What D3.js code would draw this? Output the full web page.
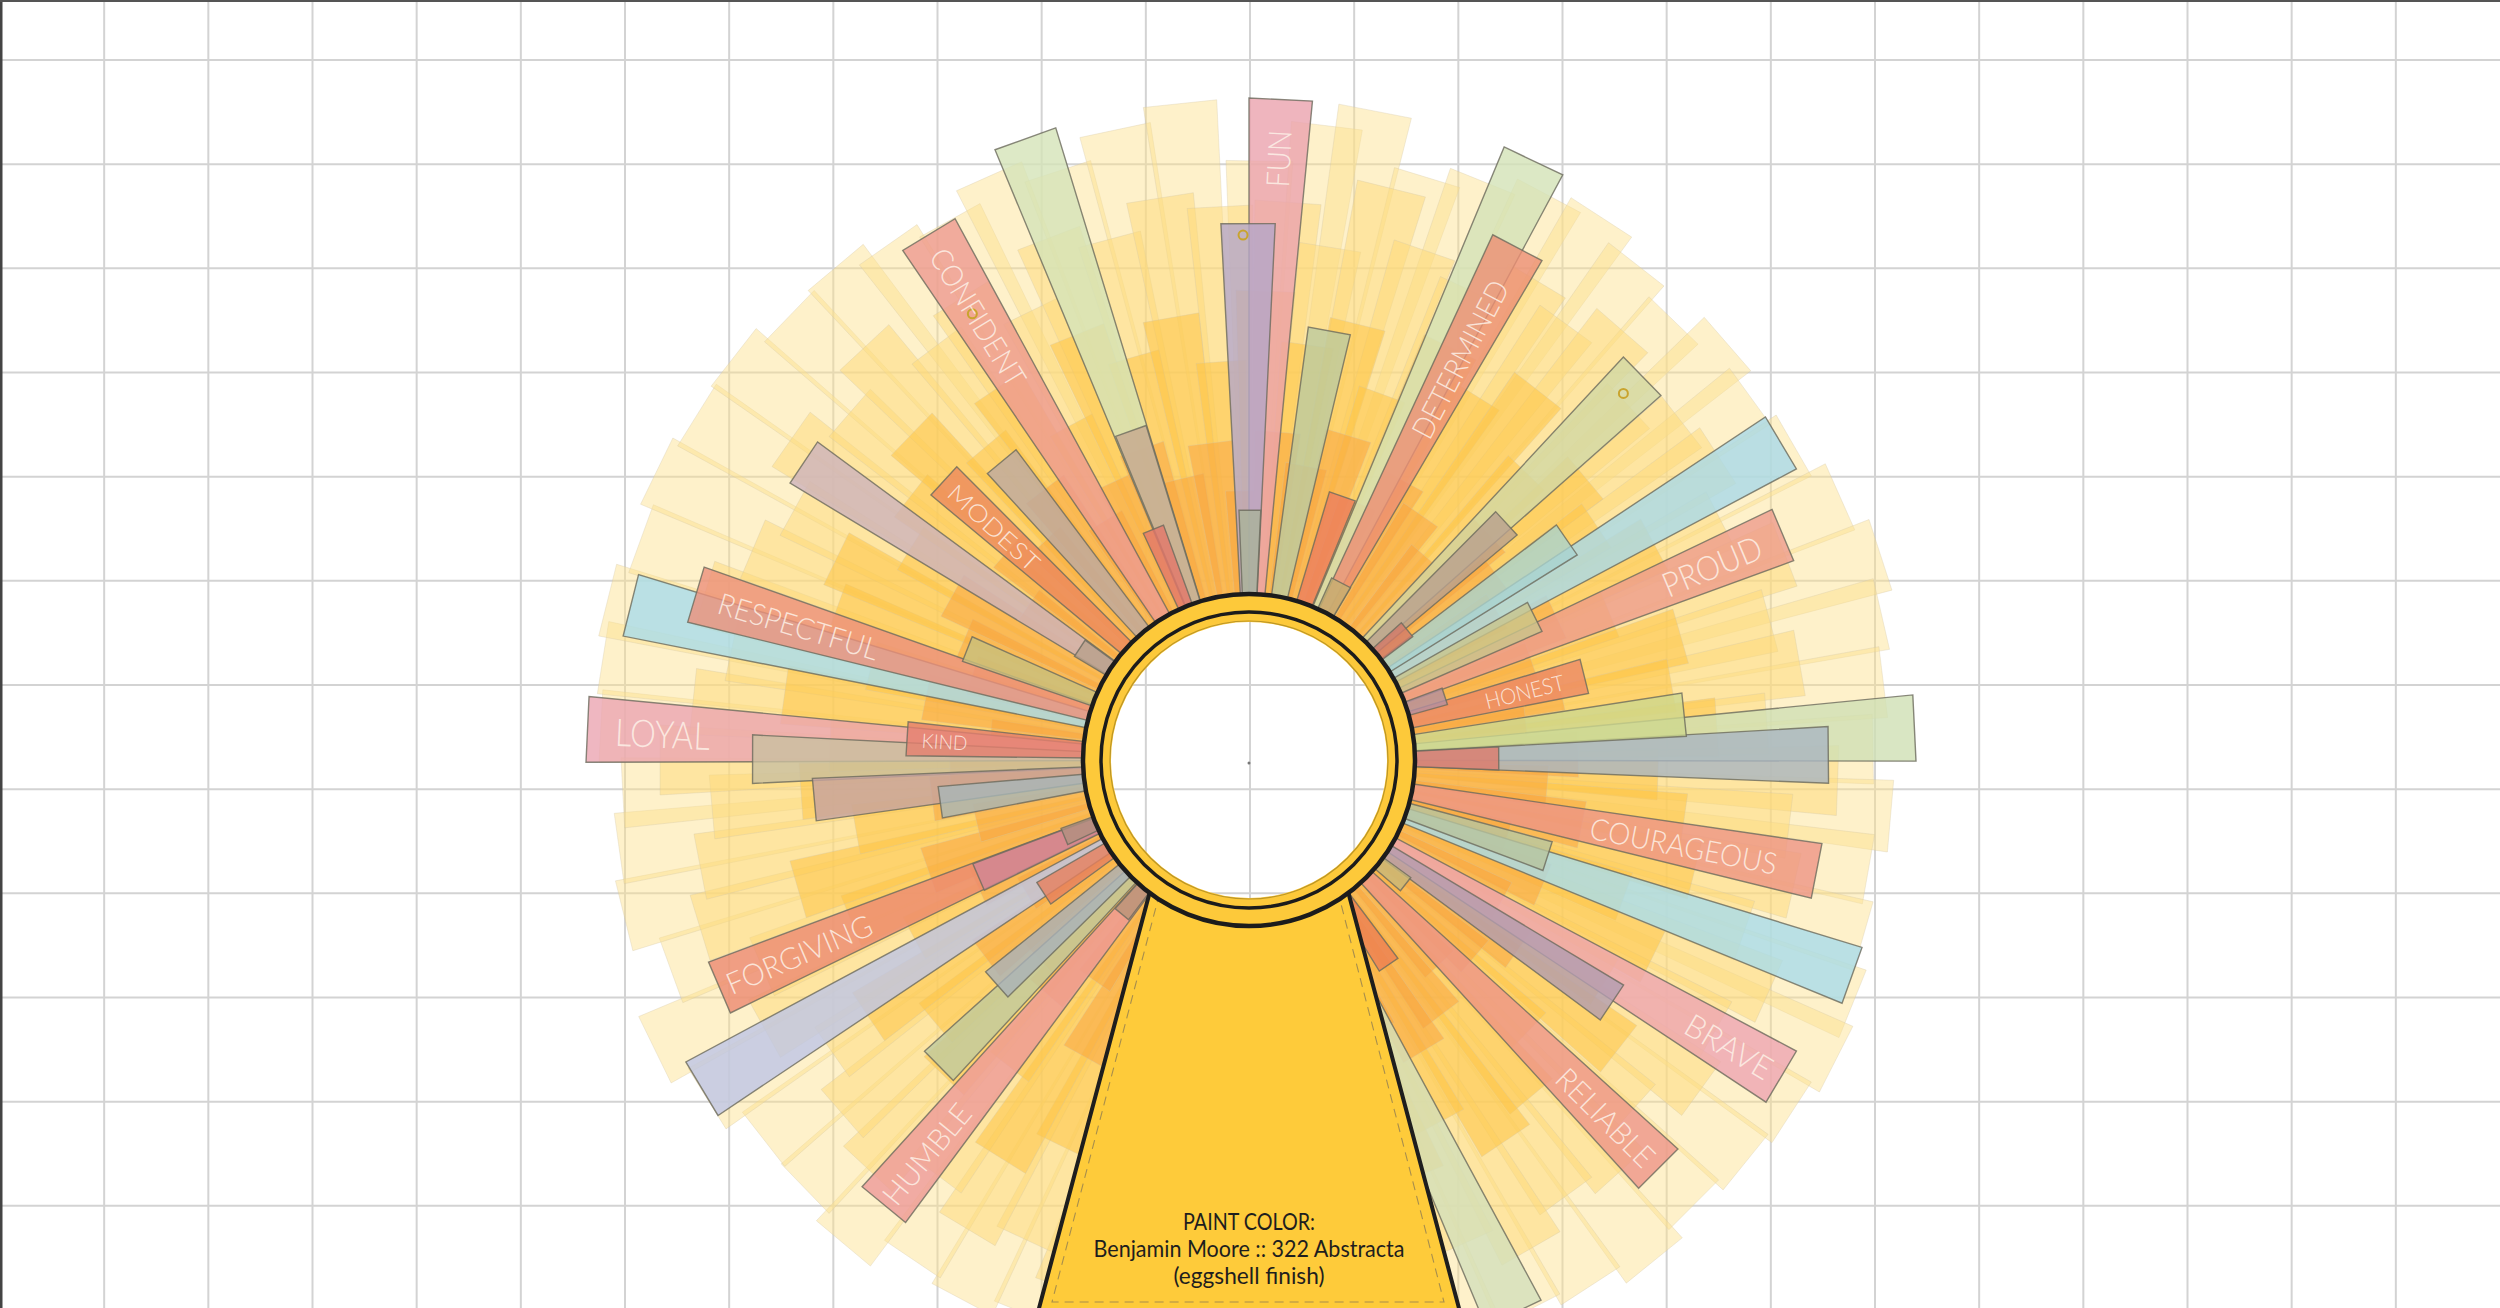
<!DOCTYPE html>
<html>
<head>
<meta charset="utf-8">
<script src="https://cdn.jsdelivr.net/npm/d3@7"></script>
<style>
  html, body { margin: 0; padding: 0; background: #fff; }
  svg { display: block; }
</style>
</head>
<body>
<svg id="chart" width="2500" height="1308"></svg>
<script>
// ---- data: pale background strips [centre angle (deg, clockwise from up), reach]
const paleOuter = [[-176,620],[-170,630],[-164,610],[-158,598],[-152,612],[-146,603],[-140,632],[-134,618],[-128,617],[-122,640],[-116,662],[-110,616],[-104,645],[-98,637],[-93,628],[-87,650],[-81,655],[-76,662],[-70,648],[-64,660],[-58,652],[-52,655],[-46,640],[-40,644],[-35,630],[-29,618],[-24,640],[-18,620],[-12,645],[-6,661],[1,600],[7,640],[11,662],[17,610],[22,625],[28,640],[33,648],[38,630],[44,612],[49,635],[54,620],[60,630],[66,648],[72,665],[77,650],[83,640],[89,625],[95,645],[100,630],[106,640],[112,652],[117,660],[123,648],[129,640],[135,630],[141,645],[147,628],[153,618],[159,605],[165,600],[171,610],[177,615]];
const paleInner = [[-173,540],[-167,520],[-161,560],[-155,530],[-149,548],[-143,520],[-137,560],[-131,540],[-125,510],[-119,555],[-113,530],[-107,575],[-101,560],[-95,540],[-90,590],[-84,560],[-78,530],[-73,570],[-67,540],[-61,520],[-55,560],[-49,530],[-43,565],[-37,520],[-32,545],[-26,500],[-21,560],[-15,540],[-9,570],[-3,555],[4,560],[9,520],[14,590],[19,540],[25,520],[31,560],[36,540],[41,570],[47,520],[52,550],[57,560],[63,530],[69,575],[75,540],[80,560],[86,520],[92,590],[97,545],[103,560],[109,525],[114,570],[120,540],[126,560],[132,520],[138,555],[144,540],[150,565],[156,530],[162,545],[168,520],[174,540]];
const goldStrips = [[-178,420],[-172,380],[-166,450],[-160,400],[-154,430],[-148,470],[-142,390],[-136,440],[-130,410],[-124,460],[-118,380],[-112,430],[-106,470],[-100,400],[-94,450],[-88,420],[-82,470],[-76,390],[-70,440],[-64,460],[-58,400],[-52,430],[-46,470],[-40,410],[-34,450],[-28,380],[-22,460],[-16,420],[-10,450],[-4,400],[2,470],[8,420],[14,450],[20,390],[26,460],[32,430],[38,470],[44,400],[50,440],[56,420],[62,460],[68,390],[74,450],[80,430],[86,470],[92,410],[98,440],[104,460],[110,400],[116,450],[122,420],[128,470],[134,390],[140,440],[146,460],[152,410],[158,450],[164,430],[170,400],[176,440]];
const amberStrips = [[-175,300],[-169,260],[-163,320],[-157,280],[-151,340],[-145,270],[-139,310],[-133,290],[-127,330],[-121,260],[-115,300],[-109,340],[-103,280],[-97,320],[-91,300],[-85,260],[-79,330],[-73,290],[-67,310],[-61,340],[-55,270],[-49,320],[-43,300],[-37,340],[-31,280],[-25,310],[-19,330],[-13,290],[-7,320],[-1,270],[5,330],[11,300],[17,340],[23,280],[29,320],[35,300],[41,270],[47,330],[53,310],[59,290],[65,340],[71,300],[77,320],[83,280],[89,330],[95,300],[101,340],[107,270],[113,320],[119,290],[125,330],[131,300],[137,280],[143,320],[149,340],[155,300],[161,280],[167,320],[173,300],[179,290]];

// ---- data: outlined paint chips
const chipFrom  = [0,-3,-2.3,7.8,16.7,24.4,22.6,24.9,44.8,42.9,48,52.6,56.4,60.5,64.4,69.6,73.1,81.2,84.4,86.7,87,98.3,105.1,107,118,121,126,132.2,143.1,151.6,
                   -22.6,-22.4,-25,-34.2,-42.4,-50.2,-59.3,-58.9,-71,-76.2,-78.8,-90.2,-89.3,-92.7,-98,-100.7,-115,-116,-116.2,-126,-123.8,-134.5,-137.3,-143.4,-143];
const chipTo    = [5.5,2.8,2.7,13.4,22.3,30.5,28.2,30.4,50,48.5,53,58,62,66.3,69.9,74.4,78.9,86.9,90.1,92.3,92.3,103.8,110.6,112.3,123.5,126.5,130.8,137.7,148.3,157.3,
                   -17,-17.1,-20,-28.5,-36.9,-44.9,-53.8,-53.6,-66,-70.5,-73.1,-84.5,-83.6,-87.1,-92.4,-94.9,-110,-110.5,-110.6,-120,-118.2,-128.8,-131.9,-137.8,-138];
const chipReach = [662,537,250,437,280,200,664,579,350,550,205,387,620,320,580,206,346,438,667,580,250,579,314,641,620,437,200,579,248,614,
                   661,350,250,616,388,414,203,536,303,578,638,663,343,497,437,312,200,577,295,245,639,338,436,576,200];
const chipPaint = ["#eba3ae","#b4a6c8","#a9b39a","#bccba0","#ec7e5e","#c4b070","#d3e2b6","#ec8e74","#b8a08e","#d2d8a4","#d27a6a","#a9d3cf","#a9dae9","#c9c58c","#ee9c8c","#b48ea0","#ec8a66","#cdd88e","#cfe0b4","#a9b5c2","#dd7b6c","#ee9585","#b6c39e","#a9dcea","#eda5b2","#b29cb0","#c8b878","#ee9587","#ec7f52","#d3e0ba",
                   "#d5e3b8","#c6a88e","#e2776a","#ee9a90","#bda9a0","#ec8a5e","#b8a08c","#cdb3bc","#c8c07e","#ec907a","#a9dcea","#eba5b1","#e57e6e","#c9bfa0","#c6a3a0","#a8b6b8","#b09080","#ec8a70","#cf8696","#e67f5e","#bec6e6","#a9b1b9","#bfcb9f","#ee9a98","#b89478"];
const chipWord  = ["FUN","","","","","","","DETERMINED","","","","","","","PROUD","","HONEST","","","","","COURAGEOUS","","","BRAVE","","","RELIABLE","","",
                   "","","","CONFIDENT","","MODEST","","","","RESPECTFUL","","LOYAL","KIND","","","","","FORGIVING","","","","","","HUMBLE",""];

// label placement: [radius of text centre, font size, text length]
const labelSpot = {
  FUN: [602, 32, 57], CONFIDENT: [519, 30, 156], DETERMINED: [453, 30, 174],
  RESPECTFUL: [470, 30, 166], PROUD: [502, 34, 105], HONEST: [284, 22, 81],
  MODEST: [345, 24, 115], KIND: [305, 20, 46], LOYAL: [587, 38, 95],
  COURAGEOUS: [443, 30, 190], BRAVE: [559, 32, 96], RELIABLE: [505, 30, 126],
  FORGIVING: [490, 30, 156], HUMBLE: [509, 30, 121]
};
// punched holes on a few chips [angle, radius]
const holes = [[-0.65, 525], [45.6, 524], [-31.8, 525]];
const paintText = ["PAINT COLOR:", "Benjamin Moore :: 322 Abstracta", "(eggshell finish)"];

// ---- setup
const svg = d3.select("#chart");
const W = 2500, H = 1308;
const cx = 1249, cy = 760, R0 = 140;

const ang = d3.scaleLinear().domain([0, 360]).range([0, 2 * Math.PI]);
const rad = d3.scaleLinear().domain([0, 700]).range([0, 700]);
const pt = (a, r) => [cx + rad(r) * Math.sin(ang(a)), cy - rad(r) * Math.cos(ang(a))];
const line = d3.line();
const wedge = (a0, a1, r1) => line([pt(a0, R0), pt(a0, r1), pt(a1, r1), pt(a1, R0)]) + "Z";

const defs = svg.append("defs");
svg.append("rect").attr("width", W).attr("height", H).attr("fill", "#fff");

// grid
const gx = d3.scaleLinear().domain([0, 24]).range([0, W]);
const gy = d3.scaleLinear().domain([0, 12]).range([60, 60 + 1250]);
const grid = svg.append("g").attr("stroke", "#d3d3d3").attr("stroke-width", 2);
grid.selectAll(".v").data(d3.range(1, 24)).join("line")
  .attr("x1", d => gx(d)).attr("x2", d => gx(d)).attr("y1", 0).attr("y2", H);
grid.selectAll(".h").data(d3.range(0, 12)).join("line")
  .attr("y1", d => gy(d)).attr("y2", d => gy(d)).attr("x1", 0).attr("x2", W);
svg.append("line").attr("x1", 1).attr("x2", 1).attr("y1", 0).attr("y2", H).attr("stroke", "#444").attr("stroke-width", 3);
svg.append("line").attr("x1", 0).attr("x2", W).attr("y1", 1).attr("y2", 1).attr("stroke", "#555").attr("stroke-width", 2);

// strip layers
function layer(data, half, fill, op) {
  svg.append("g").selectAll("path").data(data).join("path")
    .attr("d", d => wedge(d[0] - half, d[0] + half, d[1]))
    .attr("fill", fill).attr("fill-opacity", op)
    .attr("stroke", "#d2c6a6").attr("stroke-opacity", 0.4).attr("stroke-width", 0.8);
}
layer(paleOuter, 3.2, "#fde08a", 0.45);
layer(paleInner, 3.4, "#fdda78", 0.5);
layer(goldStrips, 3.6, "#fdc445", 0.55);
layer(amberStrips, 4.0, "#f7a23c", 0.5);

// outlined chips, longest first
const chips = chipFrom.map((a0, i) => ({ a0, a1: chipTo[i], r: chipReach[i], c: chipPaint[i], w: chipWord[i] }))
  .sort((a, b) => b.r - a.r);
svg.append("g").selectAll("path").data(chips).join("path")
  .attr("d", d => wedge(d.a0, d.a1, d.r))
  .attr("fill", d => d.c).attr("fill-opacity", 0.8)
  .attr("stroke", "#6b6a5c").attr("stroke-opacity", 0.8).attr("stroke-width", 1.4);

// orange glow toward the centre, kept outside the ring's hole
const glow = defs.append("radialGradient").attr("id", "glow")
  .attr("gradientUnits", "userSpaceOnUse").attr("cx", cx).attr("cy", cy).attr("r", 480);
glow.append("stop").attr("offset", "0.28").attr("stop-color", "#f7a030").attr("stop-opacity", 0.55);
glow.append("stop").attr("offset", "0.6").attr("stop-color", "#f9b040").attr("stop-opacity", 0.3);
glow.append("stop").attr("offset", "1").attr("stop-color", "#fcc860").attr("stop-opacity", 0);
svg.append("path")
  .attr("transform", `translate(${cx},${cy})`)
  .attr("d", d3.arc()({ innerRadius: R0, outerRadius: 480, startAngle: 0, endAngle: 2 * Math.PI }))
  .attr("fill", "url(#glow)");

// holes
svg.append("g").selectAll("circle").data(holes).join("circle")
  .attr("cx", d => pt(d[0], d[1])[0]).attr("cy", d => pt(d[0], d[1])[1])
  .attr("r", 4.5).attr("fill", "none").attr("stroke", "#c9a42e").attr("stroke-width", 2);

// chip labels
svg.append("g").selectAll("text").data(chips.filter(d => d.w)).join("text")
  .attr("transform", d => {
    const m = (d.a0 + d.a1) / 2, p = pt(m, labelSpot[d.w][0]);
    const rot = m >= 0 ? m - 90 : m + 90;
    return `translate(${p[0]},${p[1]}) rotate(${rot})`;
  })
  .attr("text-anchor", "middle").attr("dominant-baseline", "central")
  .attr("font-family", "Lato, 'Noto Sans', sans-serif").attr("font-weight", 300)
  .attr("font-size", d => labelSpot[d.w][1])
  .attr("textLength", d => labelSpot[d.w][2]).attr("lengthAdjust", "spacingAndGlyphs")
  .attr("fill", "#fdf1e8").attr("fill-opacity", 0.85)
  .text(d => d.w);

// paint-can label, hidden where it runs under the ring
const canMask = defs.append("mask").attr("id", "canMask");
canMask.append("rect").attr("width", W).attr("height", H).attr("fill", "#fff");
canMask.append("circle").attr("cx", cx).attr("cy", cy).attr("r", 156).attr("fill", "#000");
const can = svg.append("g").attr("mask", "url(#canMask)");
can.append("path")
  .attr("d", line([[1161, 850], [1337, 850], [1460, 1312], [1038, 1312]]) + "Z")
  .attr("fill", "#fecb3a").attr("stroke", "#1e1e1e").attr("stroke-width", 4);
can.append("path")
  .attr("d", line([[1171, 850], [1052, 1302], [1444, 1302], [1327, 850]]))
  .attr("fill", "none").attr("stroke", "#a88e4c").attr("stroke-width", 1.1).attr("stroke-dasharray", "9 6");

// ring
svg.append("circle").attr("cx", cx).attr("cy", cy).attr("r", 152)
  .attr("fill", "none").attr("stroke", "#fdc93a").attr("stroke-width", 28);
svg.append("circle").attr("cx", cx).attr("cy", cy).attr("r", 139)
  .attr("fill", "none").attr("stroke", "#a0801e").attr("stroke-width", 1.2).attr("stroke-opacity", 0.7);
svg.append("circle").attr("cx", cx).attr("cy", cy).attr("r", 148)
  .attr("fill", "none").attr("stroke", "#1c1c1c").attr("stroke-width", 3.5);
svg.append("circle").attr("cx", cx).attr("cy", cy).attr("r", 166)
  .attr("fill", "none").attr("stroke", "#1c1c1c").attr("stroke-width", 4.5);
svg.append("circle").attr("cx", cx).attr("cy", cy + 3).attr("r", 1.5).attr("fill", "#777");

const lineY = [1230, 1257, 1284], lineLen = [132, 311, 151];
svg.append("g").selectAll("text").data(paintText).join("text")
  .attr("x", cx).attr("y", (d, i) => lineY[i])
  .attr("text-anchor", "middle")
  .attr("font-family", "Lato, 'Open Sans', sans-serif").attr("font-size", 24)
  .attr("textLength", (d, i) => lineLen[i]).attr("lengthAdjust", "spacingAndGlyphs")
  .attr("fill", "#1e1e1e")
  .text(d => d);
</script>
</body>
</html>
